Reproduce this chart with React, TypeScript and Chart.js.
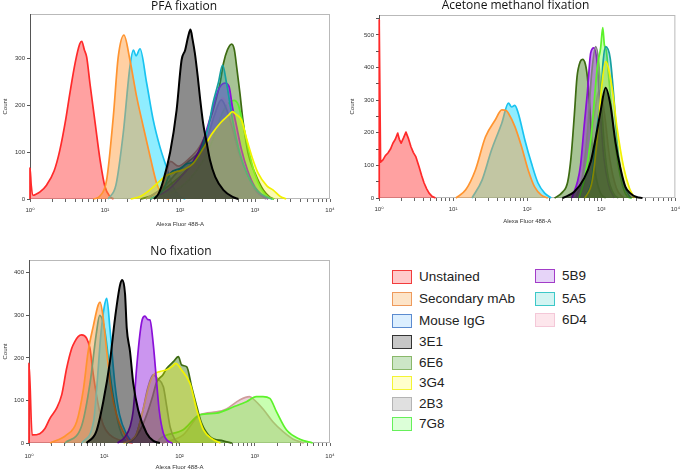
import React, { useEffect, useRef } from 'react';
import { Chart, registerables } from 'chart.js';

Chart.register(...registerables);

type Pt = [number, number];

// ---------- labels ----------
const panelTitles = ['PFA fixation', 'Acetone methanol fixation', 'No fixation'];
const xAxisTitle = 'Alexa Fluor 488-A';
const yAxisTitle = 'Count';
const xDecades = [1, 10, 100, 1000, 10000];
const xTickLabels = ['10⁰', '10¹', '10²', '10³', '10⁴'];
const xMinorSteps = [2, 3, 4, 5, 6, 7, 8, 9];
const yTicksPfa = [0, 100, 200, 300];
const yTicksAcetone = [0, 100, 200, 300, 400, 500];
const yTicksNoFix = [0, 100, 200, 300, 400];
const yMaxPfa = 394;
const yMaxAcetone = 561;
const yMaxNoFix = 430;

const legendCol1 = ['Unstained', 'Secondary mAb', 'Mouse IgG', '3E1', '6E6', '3G4', '2B3', '7G8'];
const legendCol2 = ['5B9', '5A5', '6D4'];

// ---------- PFA fixation ----------
const pfaUnstained: Pt[] = [[1, 0], [1, 66], [1.04, 28], [1.1, 8], [1.2, 10], [1.36, 15], [1.67, 30], [2.1, 60], [2.5, 104], [3, 170], [3.4, 225], [4, 290], [4.6, 330], [4.9, 336], [5.3, 318], [5.7, 302], [6.3, 246], [7.4, 161], [8.6, 83], [10, 26], [11.7, 5], [13, 0]];
const pfaSecondary: Pt[] = [[7, 0], [8.5, 6], [10.5, 40], [12.9, 175], [15, 302], [17.9, 349], [21.5, 296], [26.4, 218], [32.4, 154], [40, 90], [49, 33], [60, 5], [72, 0]];
const pfaMouseIgG: Pt[] = [[11, 0], [14, 30], [17.5, 140], [21.5, 282], [23.9, 317], [26, 305], [29.3, 320], [36, 246], [44, 168], [54, 111], [66, 68], [81, 26], [100, 5], [118, 0]];
const pfa3E1: Pt[] = [[45, 0], [52, 12], [60, 40], [74, 100], [90, 189], [105, 296], [117, 317], [128, 345], [138, 361], [147, 340], [158, 310], [172, 262], [185, 215], [204, 160], [227, 120], [251, 83], [295, 47], [380, 19], [513, 4], [600, 0]];
const pfa6E6: Pt[] = [[30, 0], [50, 12], [80, 35], [120, 60], [180, 100], [250, 165], [300, 210], [345, 250], [380, 289], [430, 318], [489, 330], [530, 318], [570, 281], [630, 225], [690, 168], [810, 97], [1000, 55], [1290, 19], [1580, 4], [1800, 0]];
const pfa3G4: Pt[] = [[22, 0], [30, 6], [40, 20], [50, 34], [66, 50], [90, 58], [110, 62], [150, 76], [210, 111], [270, 140], [350, 163], [440, 178], [500, 186], [560, 180], [660, 168], [780, 126], [910, 90], [1100, 55], [1440, 28], [1750, 19], [2150, 6], [2600, 0]];
const pfa2B3: Pt[] = [[35, 0], [60, 25], [90, 55], [130, 80], [180, 100], [230, 130], [290, 180], [355, 211], [420, 190], [500, 150], [620, 95], [800, 50], [1050, 15], [1400, 0]];
const pfa7G8: Pt[] = [[40, 0], [80, 15], [130, 40], [200, 80], [280, 130], [360, 180], [450, 205], [525, 210], [600, 200], [690, 160], [850, 95], [1000, 52], [1200, 22], [1500, 4], [1800, 0]];
const pfa5B9: Pt[] = [[40, 0], [70, 20], [100, 45], [150, 80], [200, 120], [260, 180], [320, 230], [398, 247], [450, 240], [500, 196], [560, 160], [650, 110], [800, 60], [1000, 25], [1300, 5], [1500, 0]];
const pfa5A5: Pt[] = [[40, 0], [60, 20], [74, 55], [100, 65], [123, 75], [166, 83], [204, 119], [239, 154], [275, 204], [324, 247], [370, 285], [417, 247], [513, 161], [630, 97], [776, 55], [1050, 19], [1440, 4], [1700, 0]];
const pfa6D4: Pt[] = [[40, 0], [60, 30], [75, 80], [95, 70], [130, 85], [180, 110], [240, 150], [300, 190], [370, 215], [450, 195], [550, 150], [700, 80], [900, 35], [1200, 8], [1500, 0]];

// ---------- Acetone methanol fixation ----------
const acUnstained: Pt[] = [[1, 0], [1.003, 546], [1.012, 530], [1.05, 110], [1.13, 117], [1.22, 130], [1.32, 138], [1.43, 150], [1.54, 168], [1.66, 180], [1.79, 199], [1.88, 180], [1.99, 168], [2.15, 185], [2.31, 202], [2.5, 182], [2.7, 157], [2.9, 140], [3.15, 126], [3.48, 95], [3.75, 70], [4.06, 46], [4.4, 28], [4.74, 15], [5.2, 5], [5.8, 0]];
const acSecondary: Pt[] = [[10.9, 0], [14.8, 25], [20, 86], [27.3, 187], [37, 239], [45.5, 270], [52, 268], [55.8, 260], [68.5, 218], [84, 157], [103, 86], [126, 34], [155, 9], [190, 0]];
const acMouseIgG: Pt[] = [[18, 0], [24.6, 55], [33, 147], [45.5, 230], [55.8, 291], [61.7, 279], [68, 284], [75.8, 260], [93, 178], [114, 107], [140, 46], [172, 15], [211, 0]];
const ac3E1: Pt[] = [[300, 0], [433, 19], [589, 61], [720, 111], [840, 184], [977, 265], [1143, 338], [1330, 285], [1550, 173], [1810, 92], [2110, 35], [2450, 15], [3000, 3], [3600, 0]];
const ac6E6: Pt[] = [[234, 0], [300, 18], [352, 49], [390, 123], [433, 255], [470, 370], [520, 418], [560, 425], [610, 410], [650, 370], [686, 307], [759, 153], [840, 70], [977, 15], [1150, 0]];
const ac3G4: Pt[] = [[600, 0], [750, 50], [880, 180], [1000, 330], [1143, 418], [1400, 337], [1633, 215], [2000, 95], [2400, 30], [2800, 0]];
const ac2B3: Pt[] = [[450, 0], [550, 60], [650, 200], [740, 380], [840, 464], [920, 420], [1000, 300], [1100, 160], [1250, 60], [1500, 10], [1700, 0]];
const ac7G8: Pt[] = [[500, 0], [587, 55], [721, 178], [885, 402], [980, 460], [1047, 522], [1100, 470], [1175, 449], [1260, 371], [1480, 199], [1820, 64], [2240, 5], [2600, 0]];
const ac5B9: Pt[] = [[400, 0], [480, 52], [525, 101], [589, 224], [650, 325], [720, 445], [794, 460], [885, 408], [977, 255], [1086, 123], [1260, 40], [1500, 0]];
const ac5A5: Pt[] = [[600, 0], [750, 60], [880, 220], [977, 301], [1060, 420], [1143, 464], [1318, 429], [1480, 307], [1633, 172], [1810, 92], [2100, 30], [2500, 0]];
const ac6D4: Pt[] = [[500, 0], [650, 80], [800, 250], [950, 330], [1100, 260], [1300, 120], [1600, 30], [2000, 0]];

// ---------- No fixation ----------
const nfUnstained: Pt[] = [[1, 0], [1, 187], [1.1, 19], [1.39, 22], [1.63, 34], [1.9, 58], [2.33, 82], [2.72, 113], [3.16, 175], [3.69, 222], [4.08, 239], [4.5, 250], [5, 254], [5.84, 246], [6.46, 222], [7.16, 160], [8.34, 89], [9.73, 42], [11.9, 19], [15.9, 7], [24, 0]];
const nfSecondary: Pt[] = [[1.9, 0], [3.16, 19], [4.3, 50], [5.3, 128], [6.1, 214], [7.2, 277], [8.3, 324], [8.8, 331], [9.7, 293], [10.8, 214], [12.5, 120], [14.6, 66], [17.9, 26], [22, 0]];
const nfMouseIgG: Pt[] = [[5, 0], [7.2, 50], [8, 136], [9, 254], [10, 320], [10.8, 340], [11.9, 269], [13.9, 136], [16, 66], [20, 19], [24, 0]];
const nf5A5: Pt[] = [[3, 0], [5, 40], [6.5, 143], [7.8, 254], [8.7, 300], [10.2, 263], [12.5, 136], [16, 34], [20, 0]];
const nf3E1: Pt[] = [[5.8, 0], [7.8, 26], [9.7, 97], [11.9, 191], [13.9, 293], [16.2, 371], [17.4, 383], [18.9, 350], [19.9, 270], [22, 215], [24.3, 140], [28.3, 77], [36.6, 23], [45, 5], [55, 0]];
const nf5B9: Pt[] = [[15, 0], [19, 15], [22, 38], [24.3, 77], [27, 179], [29.9, 258], [32, 290], [34.7, 298], [38, 290], [40.5, 289], [44.7, 234], [49.8, 140], [53.7, 77], [61, 23], [70, 5], [80, 0]];
const nf6E6: Pt[] = [[20, 0], [24.3, 9], [30, 30], [36.6, 66], [44, 110], [49.7, 143], [60, 160], [67.5, 175], [82.8, 191], [96.6, 203], [107, 183], [125, 179], [145, 132], [170, 85], [197, 46], [254, 15], [380, 5], [500, 0]];
const nf3G4: Pt[] = [[18, 0], [24, 10], [27, 23], [33, 80], [40, 140], [45, 160], [55, 168], [67.5, 172], [80, 180], [89, 187], [107, 171], [138, 140], [170, 77], [209, 30], [281, 8], [350, 0]];
const nf2B3: Pt[] = [[20, 0], [26, 15], [32, 70], [38, 130], [44.7, 160], [52, 150], [61, 132], [67.6, 86], [75, 38], [87, 8], [100, 0]];
const nf7G8: Pt[] = [[50, 0], [55, 10], [112, 31], [186, 66], [309, 70], [525, 85], [776, 97], [1047, 109], [1288, 109], [1585, 105], [1950, 73], [2630, 31], [3980, 9], [5890, 0]];
const nf6D4: Pt[] = [[60, 0], [112, 19], [186, 66], [309, 73], [420, 80], [630, 101], [851, 109], [933, 105], [1288, 80], [1740, 50], [2400, 26], [3240, 9], [4500, 0]];

// ---------- styles ----------
const lineColor: Record<string, string> = {
  Unstained: '#ff2a2a',
  'Secondary mAb': '#ff9430',
  'Mouse IgG': '#19c3f0',
  '3E1': '#000000',
  '6E6': '#3d6b12',
  '3G4': '#f2f200',
  '2B3': '#7f7f7f',
  '7G8': '#5cf22a',
  '5B9': '#8a10d8',
  '5A5': '#16a0a0',
  '6D4': '#cf9c9c',
};
const fillColor: Record<string, string> = {
  Unstained: 'rgba(255,40,40,0.44)',
  'Secondary mAb': 'rgba(255,150,50,0.45)',
  'Mouse IgG': 'rgba(0,215,255,0.44)',
  '3E1': 'rgba(0,0,0,0.45)',
  '6E6': 'rgba(60,125,20,0.45)',
  '3G4': 'rgba(240,240,0,0.3)',
  '2B3': 'rgba(110,110,110,0.3)',
  '7G8': 'rgba(110,255,50,0.38)',
  '5B9': 'rgba(140,20,220,0.45)',
  '5A5': 'rgba(20,160,170,0.32)',
  '6D4': 'rgba(200,140,150,0.4)',
};
const legendBorder: Record<string, string> = {
  Unstained: '#f23c3c', 'Secondary mAb': '#ee9a5c', 'Mouse IgG': '#5b8bd0', '3E1': '#333333',
  '6E6': '#8ab86a', '3G4': '#f4f433', '2B3': '#b4b4b4', '7G8': '#66f05a',
  '5B9': '#a23cc8', '5A5': '#3cc8c8', '6D4': '#f4c8d8',
};
const legendFill: Record<string, string> = {
  Unstained: '#ffcaca', 'Secondary mAb': '#fde4c8', 'Mouse IgG': '#dcefff', '3E1': '#c6c6c6',
  '6E6': '#cce6c6', '3G4': '#ffffcc', '2B3': '#e0e0e0', '7G8': '#dcffd8',
  '5B9': '#e6d4f8', '5A5': '#d2f4f2', '6D4': '#fde6ec',
};

type PanelCfg = {
  title: string;
  series: [string, Pt[]][];
  straight: string[];
  yMax: number;
  yTicks: number[];
  yMinorStep: number;
  left: number; top: number; w: number; h: number;
  titlePad: { top: number; bottom: number };
  padLeft: number; yWidth: number; xHeight: number; padRight: number; rightWidth: number;
  yTitlePad: number; xTitlePad: number; xTickPad: number;
};

const panels: PanelCfg[] = [
  {
    title: panelTitles[0],
    series: [['3E1', pfa3E1], ['3G4', pfa3G4], ['5A5', pfa5A5], ['5B9', pfa5B9], ['2B3', pfa2B3], ['6D4', pfa6D4], ['7G8', pfa7G8], ['6E6', pfa6E6], ['Secondary mAb', pfaSecondary], ['Mouse IgG', pfaMouseIgG], ['Unstained', pfaUnstained]],
    straight: [],
    yMax: yMaxPfa, yTicks: yTicksPfa, yMinorStep: 100,
    left: 0, top: 0, w: 370, h: 230,
    titlePad: { top: 1, bottom: 1 }, padLeft: 0, yWidth: 30, xHeight: 31, padRight: 2, rightWidth: 38,
    yTitlePad: 1.4, xTitlePad: 2.4, xTickPad: 5,
  },
  {
    title: panelTitles[1],
    series: [['3E1', ac3E1], ['3G4', ac3G4], ['5A5', ac5A5], ['7G8', ac7G8], ['2B3', ac2B3], ['5B9', ac5B9], ['6E6', ac6E6], ['6D4', ac6D4], ['Secondary mAb', acSecondary], ['Mouse IgG', acMouseIgG], ['Unstained', acUnstained]],
    straight: ['Unstained'],
    yMax: yMaxAcetone, yTicks: yTicksAcetone, yMinorStep: 50,
    left: 340, top: 0, w: 345, h: 230,
    titlePad: { top: 0, bottom: 3 }, padLeft: 9, yWidth: 30, xHeight: 32, padRight: 3, rightWidth: 0,
    yTitlePad: 0, xTitlePad: 4.7, xTickPad: 5,
  },
  {
    title: panelTitles[2],
    series: [['3E1', nf3E1], ['5B9', nf5B9], ['3G4', nf3G4], ['6E6', nf6E6], ['2B3', nf2B3], ['7G8', nf7G8], ['6D4', nf6D4], ['Secondary mAb', nfSecondary], ['Mouse IgG', nfMouseIgG], ['5A5', nf5A5], ['Unstained', nfUnstained]],
    straight: [],
    yMax: yMaxNoFix, yTicks: yTicksNoFix, yMinorStep: 100,
    left: 0, top: 235, w: 364, h: 236,
    titlePad: { top: 11, bottom: 2 }, padLeft: 0, yWidth: 29, xHeight: 28, padRight: 2, rightWidth: 32,
    yTitlePad: 1.4, xTitlePad: 0.4, xTickPad: 7,
  },
];

const framePlugin = {
  id: 'frame',
  beforeDatasetsDraw(chart: any) {
    const { ctx, chartArea } = chart;
    ctx.save();
    ctx.strokeStyle = '#b9b9b9';
    ctx.lineWidth = 1;
    ctx.strokeRect(chartArea.left + 0.5, chartArea.top + 0.5, chartArea.right - chartArea.left - 1, chartArea.bottom - chartArea.top - 1);
    ctx.strokeStyle = '#555';
    ctx.beginPath();
    ctx.moveTo(chartArea.left + 0.5, chartArea.top);
    ctx.lineTo(chartArea.left + 0.5, chartArea.bottom);
    ctx.stroke();
    ctx.restore();
  },
};

const tickFont = { family: "'Liberation Sans', 'DejaVu Sans', Arial, sans-serif", size: 6 };

function Panel({ cfg }: { cfg: PanelCfg }) {
  const ref = useRef<HTMLCanvasElement>(null);
  useEffect(() => {
    const scales: any = {
      x: {
        type: 'logarithmic',
        min: 1,
        max: 10000,
        afterBuildTicks: (scale: any) => {
          const ticks: any[] = [];
          xDecades.forEach((d, i) => {
            ticks.push({ value: d, major: true });
            if (i < xDecades.length - 1) xMinorSteps.forEach((m) => ticks.push({ value: d * m }));
          });
          scale.ticks = ticks;
        },
        afterFit: (scale: any) => { scale.height = cfg.xHeight; },
        ticks: {
          autoSkip: false,
          maxRotation: 0,
          minRotation: 0,
          padding: cfg.xTickPad,
          color: '#333',
          font: tickFont,
          callback: (value: any) => {
            const i = xDecades.indexOf(Number(value));
            return i >= 0 ? xTickLabels[i] : '';
          },
        },
        grid: { drawOnChartArea: false, drawTicks: true, tickLength: 3, color: '#666' },
        border: { display: false },
        title: { display: true, text: xAxisTitle, color: '#333', font: tickFont, padding: { top: 0, bottom: cfg.xTitlePad } },
      },
      y: {
        type: 'linear',
        position: 'left',
        min: 0,
        max: cfg.yMax,
        afterBuildTicks: (scale: any) => {
          const ticks: any[] = [];
          for (let v = 0; v <= cfg.yMax; v += cfg.yMinorStep) ticks.push({ value: v });
          scale.ticks = ticks;
        },
        afterFit: (scale: any) => { scale.width = cfg.yWidth; },
        ticks: {
          autoSkip: false,
          padding: 2,
          color: '#333',
          font: tickFont,
          callback: (value: any) => (cfg.yTicks.includes(Number(value)) ? String(value) : ''),
        },
        grid: { drawOnChartArea: false, drawTicks: true, tickLength: 3, color: '#555' },
        border: { display: false },
        title: { display: true, text: yAxisTitle, color: '#333', font: tickFont, padding: cfg.yTitlePad },
      },
    };
    if (cfg.rightWidth > 0) {
      scales.yRight = {
        type: 'linear',
        position: 'right',
        min: 0,
        max: cfg.yMax,
        ticks: { display: false },
        grid: { display: false },
        border: { display: false },
        afterFit: (scale: any) => { scale.width = cfg.rightWidth; },
      };
    }
    const chart = new Chart(ref.current as HTMLCanvasElement, {
      type: 'line',
      data: {
        datasets: cfg.series.map(([name, pts]) => {
          const straight = cfg.straight.includes(name);
          return {
            label: name,
            data: pts.map(([x, y]) => ({ x, y })),
            xAxisID: 'x',
            yAxisID: 'y',
            borderColor: lineColor[name],
            backgroundColor: fillColor[name],
            fill: 'origin',
            borderWidth: name === '3E1' ? 2 : 1.7,
            pointRadius: 0,
            cubicInterpolationMode: straight ? 'default' : 'monotone',
            tension: 0,
            borderJoinStyle: 'round',
            clip: false,
          };
        }),
      },
      options: {
        animation: false,
        responsive: false,
        devicePixelRatio: 1,
        events: [],
        layout: { padding: { left: cfg.padLeft, right: cfg.padRight, top: 0, bottom: 0 } },
        plugins: {
          legend: { display: false },
          tooltip: { enabled: false },
          title: {
            display: true,
            text: cfg.title,
            color: '#111',
            font: { family: "'Open Sans', sans-serif", size: 12, weight: 'normal', lineHeight: 1 },
            padding: cfg.titlePad,
          },
        },
        scales,
      } as any,
      plugins: [framePlugin],
    });
    return () => chart.destroy();
  }, [cfg]);
  return (
    <canvas
      ref={ref}
      width={cfg.w}
      height={cfg.h}
      style={{ position: 'absolute', left: cfg.left, top: cfg.top, width: cfg.w, height: cfg.h }}
    />
  );
}

const col1Centers = [277, 299, 321, 342, 363, 383, 404, 424];
const col2Centers = [276, 299, 320];

function LegendItem({ name, x, cy }: { name: string; x: number; cy: number }) {
  return (
    <div style={{ position: 'absolute', left: x, top: cy - 8, height: 16, display: 'flex', alignItems: 'center', whiteSpace: 'nowrap' }}>
      <div style={{ width: 18, height: 12, border: `1.6px solid ${legendBorder[name]}`, background: legendFill[name], boxSizing: 'content-box' }} />
      <span style={{ marginLeft: 7, fontSize: 13.5, color: '#222', fontFamily: "'Liberation Sans', Arial, sans-serif", lineHeight: '16px' }}>{name}</span>
    </div>
  );
}

export default function App() {
  return (
    <div style={{ position: 'absolute', left: 0, top: 0, width: 685, height: 471, background: '#fff', overflow: 'hidden' }}>
      {panels.map((p, i) => (
        <Panel key={i} cfg={p} />
      ))}
      {legendCol1.map((n, i) => (
        <LegendItem key={n} name={n} x={392} cy={col1Centers[i]} />
      ))}
      {legendCol2.map((n, i) => (
        <LegendItem key={n} name={n} x={535} cy={col2Centers[i]} />
      ))}
    </div>
  );
}
